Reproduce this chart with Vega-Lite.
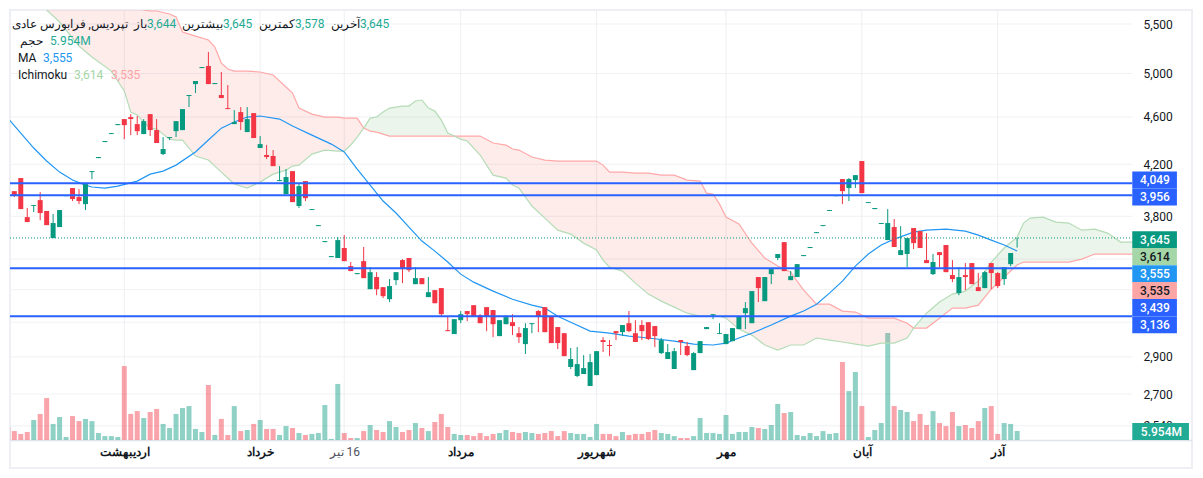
{
  "$schema": "https://vega.github.io/schema/vega-lite/v6.json",
  "width": 1182,
  "height": 458,
  "autosize": "none",
  "padding": {"left": 10, "top": 10, "right": 11, "bottom": 10},
  "background": "#ffffff",
  "config": {
    "view": {"stroke": "#EEEFF4", "strokeWidth": 2},
    "text": {"font": "Roboto", "fontSize": 12, "baseline": "middle"}
  },
  "datasets": {
    "candles": [
      {"bar":-1,"volume":8.6},
      {"bar":0,"open":3988,"high":3988,"low":3943,"close":3958,"volume":5.9},
      {"bar":1,"open":4090,"high":4090,"low":3853,"close":3853,"volume":4.0},
      {"bar":2,"open":3794,"high":3861,"low":3758,"close":3758,"volume":5.3},
      {"bar":3,"open":3876,"high":3883,"low":3831,"close":3883,"volume":13.2},
      {"bar":4,"open":3920,"high":3981,"low":3772,"close":3824,"volume":17.2},
      {"bar":5,"open":3839,"high":3839,"low":3736,"close":3736,"volume":27.7},
      {"bar":6,"open":3644,"high":3817,"low":3644,"close":3751,"volume":10.6},
      {"bar":7,"open":3722,"high":3846,"low":3722,"close":3846,"volume":15.2},
      {"bar":8,"open":3950,"high":3958,"low":3950,"close":3958,"volume":2.0},
      {"bar":9,"open":4012,"high":4012,"low":3913,"close":3928,"volume":15.8},
      {"bar":10,"open":3943,"high":4004,"low":3890,"close":3913,"volume":12.5},
      {"bar":11,"open":3890,"high":4043,"low":3846,"close":4043,"volume":13.9},
      {"bar":12,"open":4137,"high":4145,"low":4082,"close":4145,"volume":12.5},
      {"bar":13,"open":4250,"high":4259,"low":4250,"close":4259,"volume":4.6},
      {"bar":14,"open":4383,"high":4392,"low":4383,"close":4392,"volume":2.6},
      {"bar":15,"open":4451,"high":4459,"low":4451,"close":4459,"volume":2.6},
      {"bar":16,"open":4528,"high":4537,"low":4528,"close":4537,"volume":2.0},
      {"bar":17,"open":4581,"high":4581,"low":4408,"close":4528,"volume":48.8},
      {"bar":18,"open":4599,"high":4625,"low":4442,"close":4581,"volume":17.2},
      {"bar":19,"open":4537,"high":4608,"low":4442,"close":4476,"volume":19.1},
      {"bar":20,"open":4451,"high":4581,"low":4451,"close":4563,"volume":14.5},
      {"bar":21,"open":4625,"high":4625,"low":4434,"close":4485,"volume":18.5},
      {"bar":22,"open":4485,"high":4581,"low":4375,"close":4375,"volume":20.5},
      {"bar":23,"open":4283,"high":4425,"low":4275,"close":4325,"volume":10.6},
      {"bar":24,"open":4417,"high":4425,"low":4400,"close":4425,"volume":7.9},
      {"bar":25,"open":4476,"high":4563,"low":4425,"close":4563,"volume":17.2},
      {"bar":26,"open":4485,"high":4670,"low":4485,"close":4670,"volume":21.1},
      {"bar":27,"open":4789,"high":4798,"low":4688,"close":4798,"volume":22.4},
      {"bar":28,"open":4900,"high":4929,"low":4816,"close":4929,"volume":7.3},
      {"bar":29,"open":5053,"high":5063,"low":5053,"close":5063,"volume":5.3},
      {"bar":30,"open":5073,"high":5212,"low":4900,"close":4900,"volume":36.3},
      {"bar":31,"open":4900,"high":4910,"low":4900,"close":4910,"volume":3.3},
      {"bar":32,"open":4798,"high":5015,"low":4770,"close":4770,"volume":13.9},
      {"bar":33,"open":4679,"high":4891,"low":4670,"close":4670,"volume":3.3},
      {"bar":34,"open":4537,"high":4661,"low":4537,"close":4555,"volume":22.4},
      {"bar":35,"open":4643,"high":4688,"low":4485,"close":4555,"volume":5.9},
      {"bar":36,"open":4468,"high":4688,"low":4468,"close":4581,"volume":6.6},
      {"bar":37,"open":4634,"high":4634,"low":4417,"close":4417,"volume":10.6},
      {"bar":38,"open":4333,"high":4434,"low":4333,"close":4366,"volume":13.2},
      {"bar":39,"open":4275,"high":4358,"low":4242,"close":4259,"volume":7.3},
      {"bar":40,"open":4267,"high":4316,"low":4185,"close":4185,"volume":7.3},
      {"bar":41,"open":4066,"high":4185,"low":4066,"close":4074,"volume":3.3},
      {"bar":42,"open":3966,"high":4161,"low":3966,"close":4098,"volume":9.2},
      {"bar":43,"open":4145,"high":4145,"low":3905,"close":3905,"volume":7.9},
      {"bar":44,"open":3876,"high":4043,"low":3861,"close":4027,"volume":4.6},
      {"bar":45,"open":4066,"high":4066,"low":3913,"close":3935,"volume":3.3},
      {"bar":46,"open":3846,"high":3853,"low":3846,"close":3853,"volume":4.0},
      {"bar":47,"open":3729,"high":3736,"low":3729,"close":3736,"volume":4.6},
      {"bar":48,"open":3616,"high":3623,"low":3616,"close":3623,"volume":23.1},
      {"bar":49,"open":3513,"high":3520,"low":3513,"close":3520,"volume":0.7},
      {"bar":50,"open":3507,"high":3651,"low":3507,"close":3630,"volume":37.0},
      {"bar":51,"open":3575,"high":3665,"low":3486,"close":3486,"volume":4.6},
      {"bar":52,"open":3453,"high":3480,"low":3420,"close":3420,"volume":1.3},
      {"bar":53,"open":3400,"high":3407,"low":3400,"close":3407,"volume":1.3},
      {"bar":54,"open":3486,"high":3582,"low":3374,"close":3374,"volume":5.9},
      {"bar":55,"open":3303,"high":3446,"low":3303,"close":3413,"volume":9.9},
      {"bar":56,"open":3381,"high":3413,"low":3265,"close":3303,"volume":6.6},
      {"bar":57,"open":3316,"high":3316,"low":3247,"close":3259,"volume":5.3},
      {"bar":58,"open":3240,"high":3368,"low":3222,"close":3323,"volume":12.5},
      {"bar":59,"open":3361,"high":3413,"low":3329,"close":3413,"volume":8.6},
      {"bar":60,"open":3493,"high":3500,"low":3342,"close":3433,"volume":5.3},
      {"bar":61,"open":3507,"high":3507,"low":3413,"close":3426,"volume":6.6},
      {"bar":62,"open":3335,"high":3446,"low":3335,"close":3374,"volume":11.2},
      {"bar":63,"open":3374,"high":3374,"low":3335,"close":3335,"volume":7.9},
      {"bar":64,"open":3253,"high":3381,"low":3253,"close":3284,"volume":5.9},
      {"bar":65,"open":3297,"high":3297,"low":3215,"close":3215,"volume":11.9},
      {"bar":66,"open":3310,"high":3310,"low":3136,"close":3148,"volume":17.2},
      {"bar":67,"open":3053,"high":3136,"low":3047,"close":3047,"volume":8.6},
      {"bar":68,"open":3030,"high":3118,"low":3030,"close":3118,"volume":4.0},
      {"bar":69,"open":3112,"high":3167,"low":3094,"close":3148,"volume":3.3},
      {"bar":70,"open":3167,"high":3167,"low":3106,"close":3148,"volume":3.3},
      {"bar":71,"open":3203,"high":3203,"low":3136,"close":3136,"volume":2.6},
      {"bar":72,"open":3142,"high":3148,"low":3094,"close":3094,"volume":4.6},
      {"bar":73,"open":3191,"high":3191,"low":3047,"close":3136,"volume":2.6},
      {"bar":74,"open":3173,"high":3173,"low":3012,"close":3088,"volume":4.0},
      {"bar":75,"open":3018,"high":3112,"low":3018,"close":3112,"volume":4.6},
      {"bar":76,"open":3088,"high":3142,"low":3088,"close":3130,"volume":6.6},
      {"bar":77,"open":3100,"high":3148,"low":3024,"close":3077,"volume":5.3},
      {"bar":78,"open":3035,"high":3071,"low":2978,"close":3012,"volume":4.6},
      {"bar":79,"open":2972,"high":3094,"low":2916,"close":3065,"volume":5.3},
      {"bar":80,"open":3088,"high":3094,"low":3035,"close":3094,"volume":4.6},
      {"bar":81,"open":3167,"high":3173,"low":3041,"close":3136,"volume":4.0},
      {"bar":82,"open":3191,"high":3191,"low":3041,"close":3041,"volume":4.6},
      {"bar":83,"open":3136,"high":3136,"low":2978,"close":2978,"volume":5.9},
      {"bar":84,"open":3071,"high":3071,"low":2944,"close":2978,"volume":2.6},
      {"bar":85,"open":3035,"high":3035,"low":2904,"close":2904,"volume":5.9},
      {"bar":86,"open":2844,"high":2950,"low":2833,"close":2888,"volume":4.6},
      {"bar":87,"open":2795,"high":2955,"low":2790,"close":2860,"volume":4.0},
      {"bar":88,"open":2806,"high":2910,"low":2806,"close":2838,"volume":4.0},
      {"bar":89,"open":2742,"high":2916,"low":2742,"close":2871,"volume":2.0},
      {"bar":90,"open":2800,"high":2932,"low":2800,"close":2932,"volume":10.6},
      {"bar":91,"open":2995,"high":3012,"low":2927,"close":2984,"volume":4.0},
      {"bar":92,"open":2967,"high":2995,"low":2904,"close":2961,"volume":4.0},
      {"bar":93,"open":3047,"high":3047,"low":2995,"close":3035,"volume":2.6},
      {"bar":94,"open":3041,"high":3083,"low":3018,"close":3083,"volume":5.3},
      {"bar":95,"open":3094,"high":3167,"low":3041,"close":3047,"volume":3.3},
      {"bar":96,"open":3035,"high":3112,"low":2984,"close":2984,"volume":4.0},
      {"bar":97,"open":3083,"high":3112,"low":2995,"close":3047,"volume":4.0},
      {"bar":98,"open":3100,"high":3100,"low":2995,"close":3001,"volume":5.3},
      {"bar":99,"open":3077,"high":3077,"low":2955,"close":3018,"volume":6.6},
      {"bar":100,"open":2921,"high":3007,"low":2916,"close":2995,"volume":4.6},
      {"bar":101,"open":2888,"high":2972,"low":2888,"close":2927,"volume":4.0},
      {"bar":102,"open":2833,"high":2950,"low":2833,"close":2932,"volume":2.6},
      {"bar":103,"open":2995,"high":2995,"low":2910,"close":2984,"volume":1.3},
      {"bar":104,"open":2961,"high":2984,"low":2904,"close":2910,"volume":1.3},
      {"bar":105,"open":2827,"high":2927,"low":2827,"close":2921,"volume":2.6},
      {"bar":106,"open":2921,"high":2989,"low":2921,"close":2989,"volume":14.5},
      {"bar":107,"open":3059,"high":3071,"low":3059,"close":3071,"volume":4.6},
      {"bar":108,"open":3142,"high":3148,"low":3118,"close":3148,"volume":4.6},
      {"bar":109,"open":3030,"high":3094,"low":3030,"close":3035,"volume":4.0},
      {"bar":110,"open":2972,"high":3030,"low":2972,"close":3030,"volume":16.5},
      {"bar":111,"open":2989,"high":3065,"low":2989,"close":3065,"volume":4.0},
      {"bar":112,"open":3059,"high":3136,"low":3059,"close":3136,"volume":5.3},
      {"bar":113,"open":3154,"high":3222,"low":3059,"close":3185,"volume":5.3},
      {"bar":114,"open":3094,"high":3291,"low":3094,"close":3291,"volume":8.6},
      {"bar":115,"open":3381,"high":3381,"low":3222,"close":3310,"volume":7.9},
      {"bar":116,"open":3228,"high":3381,"low":3228,"close":3381,"volume":7.3},
      {"bar":117,"open":3400,"high":3440,"low":3335,"close":3433,"volume":9.9},
      {"bar":118,"open":3507,"high":3534,"low":3493,"close":3534,"volume":23.8},
      {"bar":119,"open":3616,"high":3616,"low":3420,"close":3420,"volume":17.8},
      {"bar":120,"open":3361,"high":3420,"low":3361,"close":3387,"volume":18.5},
      {"bar":121,"open":3381,"high":3466,"low":3381,"close":3466,"volume":3.3},
      {"bar":122,"open":3520,"high":3527,"low":3520,"close":3527,"volume":2.6},
      {"bar":123,"open":3575,"high":3582,"low":3575,"close":3582,"volume":4.6},
      {"bar":124,"open":3679,"high":3686,"low":3679,"close":3686,"volume":2.6},
      {"bar":125,"open":3729,"high":3736,"low":3729,"close":3736,"volume":5.9},
      {"bar":126,"open":3839,"high":3846,"low":3839,"close":3846,"volume":4.0},
      {"bar":127,"open":3950,"high":3958,"low":3950,"close":3958,"volume":4.6},
      {"bar":128,"open":4082,"high":4082,"low":3890,"close":3988,"volume":51.5},
      {"bar":129,"open":4012,"high":4090,"low":3913,"close":4082,"volume":32.3},
      {"bar":130,"open":4074,"high":4113,"low":4012,"close":4113,"volume":44.9},
      {"bar":131,"open":4226,"high":4226,"low":3973,"close":3973,"volume":22.4},
      {"bar":132,"open":3898,"high":3905,"low":3898,"close":3905,"volume":2.0},
      {"bar":133,"open":3853,"high":3861,"low":3853,"close":3861,"volume":6.6},
      {"bar":134,"open":3744,"high":3751,"low":3744,"close":3751,"volume":11.2},
      {"bar":135,"open":3630,"high":3853,"low":3630,"close":3751,"volume":70.6},
      {"bar":136,"open":3722,"high":3780,"low":3582,"close":3582,"volume":22.4},
      {"bar":137,"open":3527,"high":3729,"low":3527,"close":3561,"volume":19.8},
      {"bar":138,"open":3534,"high":3644,"low":3446,"close":3644,"volume":18.5},
      {"bar":139,"open":3715,"high":3715,"low":3568,"close":3609,"volume":12.5},
      {"bar":140,"open":3693,"high":3693,"low":3575,"close":3575,"volume":17.2},
      {"bar":141,"open":3493,"high":3679,"low":3473,"close":3473,"volume":9.9},
      {"bar":142,"open":3400,"high":3534,"low":3394,"close":3480,"volume":19.1},
      {"bar":143,"open":3547,"high":3547,"low":3446,"close":3527,"volume":11.2},
      {"bar":144,"open":3596,"high":3596,"low":3413,"close":3413,"volume":9.2},
      {"bar":145,"open":3394,"high":3493,"low":3348,"close":3368,"volume":18.5},
      {"bar":146,"open":3278,"high":3446,"low":3265,"close":3381,"volume":9.2},
      {"bar":147,"open":3394,"high":3473,"low":3297,"close":3381,"volume":9.9},
      {"bar":148,"open":3473,"high":3473,"low":3335,"close":3335,"volume":7.9},
      {"bar":149,"open":3316,"high":3407,"low":3291,"close":3291,"volume":12.5},
      {"bar":150,"open":3310,"high":3420,"low":3310,"close":3413,"volume":21.1},
      {"bar":151,"open":3473,"high":3473,"low":3303,"close":3407,"volume":22.4},
      {"bar":152,"open":3407,"high":3413,"low":3310,"close":3323,"volume":4.0},
      {"bar":153,"open":3368,"high":3446,"low":3329,"close":3446,"volume":11.2},
      {"bar":154,"open":3466,"high":3541,"low":3453,"close":3541,"volume":10.6},
      {"bar":155,"open":3644,"high":3645,"low":3578,"close":3645,"volume":5.954}
    ],
    "cloud": [
      {"bar":5,"spanA":5650,"spanB":6000,"seg":1},{"bar":7,"spanA":5521,"spanB":6000,"seg":1},
      {"bar":10,"spanA":5272,"spanB":6000,"seg":1},{"bar":12,"spanA":5162,"spanB":6000,"seg":1},
      {"bar":15,"spanA":5024,"spanB":6000,"seg":1},{"bar":17,"spanA":4835,"spanB":5900,"seg":1},
      {"bar":18,"spanA":4643,"spanB":5800,"seg":1},{"bar":19,"spanA":4617,"spanB":5700,"seg":1},
      {"bar":20,"spanA":4555,"spanB":5650,"seg":1},{"bar":21,"spanA":4502,"spanB":5639,"seg":1},
      {"bar":22,"spanA":4494,"spanB":5639,"seg":1},{"bar":24,"spanA":4408,"spanB":5607,"seg":1},
      {"bar":25,"spanA":4400,"spanB":5574,"seg":1},{"bar":26,"spanA":4400,"spanB":5416,"seg":1},
      {"bar":28,"spanA":4267,"spanB":5374,"seg":1},{"bar":30,"spanA":4234,"spanB":5333,"seg":1},
      {"bar":31,"spanA":4185,"spanB":5262,"seg":1},{"bar":32,"spanA":4137,"spanB":5102,"seg":1},
      {"bar":33,"spanA":4090,"spanB":5044,"seg":1},{"bar":34,"spanA":4043,"spanB":5024,"seg":1},
      {"bar":36,"spanA":4012,"spanB":5024,"seg":1},{"bar":38,"spanA":4058,"spanB":5015,"seg":1},
      {"bar":40,"spanA":4121,"spanB":4986,"seg":1},{"bar":42,"spanA":4153,"spanB":4872,"seg":1},
      {"bar":43,"spanA":4185,"spanB":4816,"seg":1},{"bar":44,"spanA":4193,"spanB":4679,"seg":1},
      {"bar":46,"spanA":4283,"spanB":4625,"seg":1},{"bar":48,"spanA":4316,"spanB":4599,"seg":1},
      {"bar":50,"spanA":4308,"spanB":4599,"seg":1},{"bar":51,"spanA":4308,"spanB":4590,"seg":1},
      {"bar":52,"spanA":4358,"spanB":4590,"seg":1},{"bar":53,"spanA":4425,"spanB":4590,"seg":1},
      {"bar":54,"spanA":4502,"spanB":4502,"seg":1},
      {"bar":54,"spanA":4502,"spanB":4502,"seg":2},{"bar":55,"spanA":4590,"spanB":4476,"seg":2},
      {"bar":56,"spanA":4599,"spanB":4468,"seg":2},{"bar":57,"spanA":4643,"spanB":4451,"seg":2},
      {"bar":58,"spanA":4679,"spanB":4434,"seg":2},{"bar":60,"spanA":4697,"spanB":4434,"seg":2},
      {"bar":61,"spanA":4697,"spanB":4434,"seg":2},{"bar":62,"spanA":4743,"spanB":4434,"seg":2},
      {"bar":63,"spanA":4752,"spanB":4434,"seg":2},{"bar":64,"spanA":4679,"spanB":4434,"seg":2},
      {"bar":65,"spanA":4652,"spanB":4434,"seg":2},{"bar":66,"spanA":4572,"spanB":4434,"seg":2},
      {"bar":67,"spanA":4459,"spanB":4434,"seg":2},{"bar":68,"spanA":4434,"spanB":4434,"seg":2},
      {"bar":68,"spanA":4434,"spanB":4434,"seg":3},{"bar":69,"spanA":4408,"spanB":4434,"seg":3},
      {"bar":70,"spanA":4392,"spanB":4434,"seg":3},{"bar":72,"spanA":4275,"spanB":4434,"seg":3},
      {"bar":74,"spanA":4113,"spanB":4375,"seg":3},{"bar":76,"spanA":4090,"spanB":4358,"seg":3},
      {"bar":77,"spanA":4035,"spanB":4325,"seg":3},{"bar":78,"spanA":4012,"spanB":4316,"seg":3},
      {"bar":80,"spanA":3876,"spanB":4259,"seg":3},{"bar":82,"spanA":3787,"spanB":4234,"seg":3},
      {"bar":84,"spanA":3700,"spanB":4226,"seg":3},{"bar":86,"spanA":3672,"spanB":4226,"seg":3},
      {"bar":88,"spanA":3609,"spanB":4226,"seg":3},{"bar":90,"spanA":3561,"spanB":4226,"seg":3},
      {"bar":91,"spanA":3493,"spanB":4193,"seg":3},{"bar":92,"spanA":3446,"spanB":4137,"seg":3},
      {"bar":94,"spanA":3420,"spanB":4137,"seg":3},{"bar":96,"spanA":3342,"spanB":4129,"seg":3},
      {"bar":98,"spanA":3272,"spanB":4129,"seg":3},{"bar":100,"spanA":3228,"spanB":4113,"seg":3},
      {"bar":102,"spanA":3191,"spanB":4113,"seg":3},{"bar":104,"spanA":3154,"spanB":4074,"seg":3},
      {"bar":106,"spanA":3136,"spanB":4066,"seg":3},{"bar":107,"spanA":3136,"spanB":3973,"seg":3},
      {"bar":108,"spanA":3136,"spanB":3966,"seg":3},{"bar":109,"spanA":3136,"spanB":3890,"seg":3},
      {"bar":110,"spanA":3124,"spanB":3794,"seg":3},{"bar":112,"spanA":3059,"spanB":3744,"seg":3},
      {"bar":114,"spanA":3024,"spanB":3609,"seg":3},{"bar":116,"spanA":2967,"spanB":3507,"seg":3},
      {"bar":118,"spanA":2938,"spanB":3453,"seg":3},{"bar":120,"spanA":2967,"spanB":3413,"seg":3},
      {"bar":122,"spanA":2967,"spanB":3297,"seg":3},{"bar":124,"spanA":3007,"spanB":3209,"seg":3},
      {"bar":126,"spanA":2995,"spanB":3209,"seg":3},{"bar":128,"spanA":2984,"spanB":3167,"seg":3},
      {"bar":130,"spanA":2972,"spanB":3161,"seg":3},{"bar":132,"spanA":2961,"spanB":3124,"seg":3},
      {"bar":134,"spanA":2978,"spanB":3124,"seg":3},{"bar":136,"spanA":2978,"spanB":3124,"seg":3},
      {"bar":138,"spanA":3007,"spanB":3094,"seg":3},{"bar":139,"spanA":3065,"spanB":3065,"seg":3},
      {"bar":139,"spanA":3065,"spanB":3065,"seg":4},{"bar":141,"spanA":3154,"spanB":3065,"seg":4},
      {"bar":143,"spanA":3222,"spanB":3124,"seg":4},{"bar":145,"spanA":3272,"spanB":3185,"seg":4},
      {"bar":147,"spanA":3291,"spanB":3185,"seg":4},{"bar":149,"spanA":3355,"spanB":3203,"seg":4},
      {"bar":151,"spanA":3480,"spanB":3303,"seg":4},{"bar":153,"spanA":3575,"spanB":3381,"seg":4},
      {"bar":155,"spanA":3651,"spanB":3460,"seg":4},{"bar":156,"spanA":3751,"spanB":3480,"seg":4},
      {"bar":157,"spanA":3787,"spanB":3480,"seg":4},{"bar":159,"spanA":3794,"spanB":3480,"seg":4},
      {"bar":161,"spanA":3758,"spanB":3480,"seg":4},{"bar":163,"spanA":3751,"spanB":3480,"seg":4},
      {"bar":165,"spanA":3700,"spanB":3500,"seg":4},{"bar":167,"spanA":3707,"spanB":3534,"seg":4},
      {"bar":169,"spanA":3679,"spanB":3534,"seg":4},{"bar":171,"spanA":3616,"spanB":3534,"seg":4},
      {"bar":173,"spanA":3616,"spanB":3534,"seg":4}
    ],
    "ma": [
      {"bar":-1,"ma":4590},{"bar":1,"ma":4459},{"bar":3,"ma":4333},{"bar":5,"ma":4226},{"bar":7,"ma":4137},
      {"bar":9,"ma":4074},{"bar":11,"ma":4035},{"bar":12,"ma":4020},{"bar":14,"ma":4012},{"bar":16,"ma":4027},
      {"bar":19,"ma":4066},{"bar":21,"ma":4121},{"bar":23,"ma":4145},{"bar":25,"ma":4193},{"bar":28,"ma":4300},
      {"bar":30,"ma":4400},{"bar":32,"ma":4502},{"bar":34,"ma":4555},{"bar":36,"ma":4599},{"bar":38,"ma":4608},
      {"bar":41,"ma":4581},{"bar":43,"ma":4520},{"bar":46,"ma":4442},{"bar":49,"ma":4366},{"bar":51,"ma":4300},
      {"bar":53,"ma":4161},{"bar":55,"ma":4035},{"bar":57,"ma":3913},{"bar":59,"ma":3824},{"bar":61,"ma":3722},
      {"bar":63,"ma":3623},{"bar":65,"ma":3554},{"bar":67,"ma":3480},{"bar":69,"ma":3400},{"bar":71,"ma":3348},
      {"bar":74,"ma":3291},{"bar":77,"ma":3240},{"bar":80,"ma":3203},{"bar":82,"ma":3185},{"bar":84,"ma":3136},
      {"bar":86,"ma":3100},{"bar":89,"ma":3047},{"bar":92,"ma":3035},{"bar":95,"ma":3018},{"bar":98,"ma":3007},
      {"bar":102,"ma":2989},{"bar":105,"ma":2972},{"bar":108,"ma":2967},{"bar":110,"ma":2978},{"bar":112,"ma":3007},
      {"bar":114,"ma":3035},{"bar":117,"ma":3083},{"bar":120,"ma":3136},{"bar":122,"ma":3167},{"bar":124,"ma":3209},
      {"bar":126,"ma":3278},{"bar":128,"ma":3355},{"bar":130,"ma":3453},{"bar":132,"ma":3534},{"bar":134,"ma":3596},
      {"bar":136,"ma":3637},{"bar":139,"ma":3686},{"bar":141,"ma":3700},{"bar":144,"ma":3707},{"bar":147,"ma":3693},
      {"bar":149,"ma":3665},{"bar":151,"ma":3630},{"bar":153,"ma":3596},{"bar":155,"ma":3555}
    ],
    "tags": [
      {"label":"4,049","kind":"line","level":4074},
      {"label":"3,956","kind":"line","level":3943},
      {"label":"3,645","kind":"last","level":3633},
      {"label":"3,614","kind":"spanA","level":3517},
      {"label":"3,555","kind":"ma","level":3403},
      {"label":"3,535","kind":"spanB","level":3294},
      {"label":"3,439","kind":"line","level":3188},
      {"label":"3,136","kind":"line","level":3085}
    ]
  },
  "layer": [
    {
      "layer": [
        {
          "data": {"values": [{"level":5500},{"level":5000},{"level":4600},{"level":4200},{"level":3800},{"level":3500},{"level":3300},{"level":3100},{"level":2900},{"level":2700},{"level":2540}]},
          "mark": {"type": "rule", "color": "#F0F1F4", "strokeWidth": 1},
          "encoding": {
            "x": {"datum": -0.665, "type": "quantitative", "scale": {"domain": [-0.665, 182.03], "nice": false, "zero": false, "padding": 0}},
            "x2": {"datum": 172.8},
            "y": {
              "field": "level",
              "type": "quantitative",
              "scale": {"type": "log", "domain": [2342, 5650.1], "nice": false, "zero": false},
              "axis": {
                "orient": "right", "offset": -57, "title": null, "grid": false, "domain": false, "ticks": false,
                "values": [5500, 5000, 4600, 4200, 3800, 2900, 2700, 2540], "format": ",",
                "labelPadding": 8, "labelFont": "Roboto", "labelFontSize": 12, "labelColor": "#131722", "labelOverlap": false, "labelBound": false
              }
            }
          }
        },
        {
          "data": {"values": [{"bar":17},{"bar":38},{"bar":51},{"bar":69},{"bar":90},{"bar":110},{"bar":131},{"bar":152}]},
          "mark": {"type": "rule", "color": "#EEEFF2", "strokeWidth": 1},
          "encoding": {
            "x": {
              "field": "bar",
              "type": "quantitative",
              "axis": {
                "orient": "bottom", "offset": -28, "title": null, "grid": false, "ticks": false,
                "domainColor": "#E0E3EB", "domainWidth": 1.5,
                "values": [17, 38, 51, 69, 90, 110, 131, 152],
                "labelExpr": "{'17':'اردیبهشت','38':'خرداد','51':'تیر \u200e16','69':'مرداد','90':'شهریور','110':'مهر','131':'آبان','152':'آذر'}[datum.value]",
                "labelPadding": 6, "labelFont": "Roboto", "labelFontSize": 12, "labelColor": {"expr": "datum.value == 51 ? '#50535E' : '#131722'"},
                "labelFontWeight": {"expr": "datum.value == 51 ? 400 : 700"}, "labelOverlap": false, "labelBound": false
              }
            },
            "y": {"datum": 5650},
            "y2": {"datum": 2471}
          }
        }
      ]
    },
    {
      "data": {"name": "candles"},
      "mark": {"type": "bar", "orient": "vertical", "size": 5, "opacity": 0.45, "clip": true},
      "encoding": {
        "x": {"field": "bar", "type": "quantitative"},
        "y": {"field": "volume", "type": "quantitative", "axis": null, "scale": {"domain": [-18.48, 283.8], "nice": false, "zero": false}},
        "y2": {"datum": 0},
        "color": {"condition": {"test": "datum.close >= datum.open", "value": "#089981"}, "value": "#F23645"}
      }
    },
    {
      "layer": [
        {
          "data": {"name": "cloud"},
          "transform": [{"filter": "datum.seg == 1 || datum.seg == 3"}],
          "mark": {"type": "area", "orient": "vertical", "fill": "#F44336", "fillOpacity": 0.1, "clip": true},
          "encoding": {
            "x": {"field": "bar", "type": "quantitative"},
            "y": {"field": "spanA", "type": "quantitative", "axis": null, "stack": null, "scale": {"type": "log", "domain": [2342, 5650.1], "nice": false, "zero": false}},
            "y2": {"field": "spanB"},
            "detail": {"field": "seg"}
          }
        },
        {
          "data": {"name": "cloud"},
          "transform": [{"filter": "datum.seg == 2 || datum.seg == 4"}],
          "mark": {"type": "area", "orient": "vertical", "fill": "#43A047", "fillOpacity": 0.1, "clip": true},
          "encoding": {
            "x": {"field": "bar", "type": "quantitative"},
            "y": {"field": "spanA", "type": "quantitative", "axis": null, "stack": null},
            "y2": {"field": "spanB"},
            "detail": {"field": "seg"}
          }
        },
        {
          "data": {"name": "cloud"},
          "mark": {"type": "line", "color": "#FFA8A8", "strokeWidth": 1.2, "clip": true},
          "encoding": {
            "x": {"field": "bar", "type": "quantitative"},
            "y": {"field": "spanB", "type": "quantitative", "axis": null},
            "order": {"field": "bar"}
          }
        },
        {
          "data": {"name": "cloud"},
          "mark": {"type": "line", "color": "#B5DCB6", "strokeWidth": 1.2, "clip": true},
          "encoding": {
            "x": {"field": "bar", "type": "quantitative"},
            "y": {"field": "spanA", "type": "quantitative", "axis": null},
            "order": {"field": "bar"}
          }
        },
        {
          "data": {"name": "ma"},
          "mark": {"type": "line", "color": "#2196F3", "strokeWidth": 1.2, "clip": true},
          "encoding": {
            "x": {"field": "bar", "type": "quantitative"},
            "y": {"field": "ma", "type": "quantitative", "axis": null},
            "order": {"field": "bar"}
          }
        },
        {
          "data": {"name": "candles"},
          "transform": [{"filter": "isValid(datum.open)"}],
          "mark": {"type": "rule", "strokeWidth": 1},
          "encoding": {
            "x": {"field": "bar", "type": "quantitative"},
            "y": {"field": "high", "type": "quantitative", "axis": null},
            "y2": {"field": "low"},
            "color": {"condition": {"test": "datum.close >= datum.open", "value": "#089981"}, "value": "#F23645"}
          }
        },
        {
          "data": {"name": "candles"},
          "transform": [{"filter": "isValid(datum.open)"}],
          "mark": {"type": "bar", "orient": "vertical", "size": 5},
          "encoding": {
            "x": {"field": "bar", "type": "quantitative"},
            "y": {"field": "open", "type": "quantitative", "axis": null},
            "y2": {"field": "close"},
            "color": {"condition": {"test": "datum.close >= datum.open", "value": "#089981"}, "value": "#F23645"}
          }
        },
        {
          "data": {"values": [{"level": 3645}]},
          "mark": {"type": "rule", "color": "#089981", "strokeWidth": 1, "strokeDash": [1, 2]},
          "encoding": {
            "x": {"datum": -0.665, "type": "quantitative"},
            "x2": {"datum": 172.8},
            "y": {"field": "level", "type": "quantitative", "axis": null}
          }
        },
        {
          "data": {"values": [{"level":4049},{"level":3956},{"level":3439},{"level":3136}]},
          "mark": {"type": "rule", "color": "#2962FF", "strokeWidth": 2},
          "encoding": {
            "x": {"datum": -0.665, "type": "quantitative"},
            "x2": {"datum": 172.8},
            "y": {"field": "level", "type": "quantitative", "axis": null}
          }
        },
        {
          "data": {"name": "tags"},
          "mark": {"type": "rule", "strokeWidth": 17},
          "encoding": {
            "x": {"datum": 172.8, "type": "quantitative"},
            "x2": {"datum": 179.7},
            "y": {"field": "level", "type": "quantitative", "axis": null},
            "stroke": {"field": "kind", "type": "nominal", "legend": null, "scale": {"domain": ["line", "last", "spanA", "ma", "spanB"], "range": ["#2962FF", "#089981", "#A5D6A7", "#2196F3", "#FCA5A5"]}}
          }
        },
        {
          "data": {"name": "tags"},
          "mark": {"type": "text", "align": "center", "fontWeight": 500},
          "encoding": {
            "x": {"datum": 176.3, "type": "quantitative"},
            "y": {"field": "level", "type": "quantitative", "axis": null},
            "text": {"field": "label"},
            "color": {"field": "kind", "type": "nominal", "legend": null, "scale": {"domain": ["line", "last", "spanA", "ma", "spanB"], "range": ["#ffffff", "#ffffff", "#131722", "#ffffff", "#131722"]}}
          }
        },
        {
          "data": {"values": [{"level": 2512}]},
          "mark": {"type": "rule", "strokeWidth": 17, "color": "#22AB94"},
          "encoding": {
            "x": {"datum": 172.8, "type": "quantitative"},
            "x2": {"datum": 181.56},
            "y": {"field": "level", "type": "quantitative", "axis": null}
          }
        },
        {
          "data": {"values": [{"level": 2512}]},
          "mark": {"type": "text", "align": "center", "fontWeight": 500, "text": "5.954M", "color": "#ffffff"},
          "encoding": {"x": {"datum": 177.3, "type": "quantitative"}, "y": {"field": "level", "type": "quantitative", "axis": null}}
        },
        {"data": {"values": [{"level": 5500}]}, "mark": {"type": "text", "align": "right", "color": "#131722", "text": "تپردیس, فرابورس عادی"}, "encoding": {"x": {"datum": 17.57, "type": "quantitative"}, "y": {"field": "level", "type": "quantitative", "axis": null}}},
        {"data": {"values": [{"level": 5500}]}, "mark": {"type": "text", "align": "right", "color": "#131722", "text": "باز"}, "encoding": {"x": {"datum": 20.5, "type": "quantitative"}, "y": {"field": "level", "type": "quantitative", "axis": null}}},
        {"data": {"values": [{"level": 5500}]}, "mark": {"type": "text", "align": "left", "color": "#22AB94", "text": "3,644"}, "encoding": {"x": {"datum": 20.5, "type": "quantitative"}, "y": {"field": "level", "type": "quantitative", "axis": null}}},
        {"data": {"values": [{"level": 5500}]}, "mark": {"type": "text", "align": "right", "color": "#131722", "text": "بیشترین"}, "encoding": {"x": {"datum": 32.26, "type": "quantitative"}, "y": {"field": "level", "type": "quantitative", "axis": null}}},
        {"data": {"values": [{"level": 5500}]}, "mark": {"type": "text", "align": "left", "color": "#22AB94", "text": "3,645"}, "encoding": {"x": {"datum": 32.26, "type": "quantitative"}, "y": {"field": "level", "type": "quantitative", "axis": null}}},
        {"data": {"values": [{"level": 5500}]}, "mark": {"type": "text", "align": "right", "color": "#131722", "text": "کمترین"}, "encoding": {"x": {"datum": 43.4, "type": "quantitative"}, "y": {"field": "level", "type": "quantitative", "axis": null}}},
        {"data": {"values": [{"level": 5500}]}, "mark": {"type": "text", "align": "left", "color": "#22AB94", "text": "3,578"}, "encoding": {"x": {"datum": 43.4, "type": "quantitative"}, "y": {"field": "level", "type": "quantitative", "axis": null}}},
        {"data": {"values": [{"level": 5500}]}, "mark": {"type": "text", "align": "right", "color": "#131722", "text": "آخرین"}, "encoding": {"x": {"datum": 53.43, "type": "quantitative"}, "y": {"field": "level", "type": "quantitative", "axis": null}}},
        {"data": {"values": [{"level": 5500}]}, "mark": {"type": "text", "align": "left", "color": "#22AB94", "text": "3,645"}, "encoding": {"x": {"datum": 53.43, "type": "quantitative"}, "y": {"field": "level", "type": "quantitative", "axis": null}}},
        {"data": {"values": [{"level": 5323}]}, "mark": {"type": "text", "align": "right", "color": "#131722", "text": "حجم"}, "encoding": {"x": {"datum": 4.44, "type": "quantitative"}, "y": {"field": "level", "type": "quantitative", "axis": null}}},
        {"data": {"values": [{"level": 5323}]}, "mark": {"type": "text", "align": "left", "color": "#22AB94", "text": "5.954M"}, "encoding": {"x": {"datum": 5.52, "type": "quantitative"}, "y": {"field": "level", "type": "quantitative", "axis": null}}},
        {"data": {"values": [{"level": 5152}]}, "mark": {"type": "text", "align": "left", "color": "#131722", "text": "MA"}, "encoding": {"x": {"datum": 0.57, "type": "quantitative"}, "y": {"field": "level", "type": "quantitative", "axis": null}}},
        {"data": {"values": [{"level": 5152}]}, "mark": {"type": "text", "align": "left", "color": "#2196F3", "text": "3,555"}, "encoding": {"x": {"datum": 4.44, "type": "quantitative"}, "y": {"field": "level", "type": "quantitative", "axis": null}}},
        {"data": {"values": [{"level": 4986}]}, "mark": {"type": "text", "align": "left", "color": "#131722", "text": "Ichimoku"}, "encoding": {"x": {"datum": 0.57, "type": "quantitative"}, "y": {"field": "level", "type": "quantitative", "axis": null}}},
        {"data": {"values": [{"level": 4986}]}, "mark": {"type": "text", "align": "left", "color": "#A5D6A7", "text": "3,614"}, "encoding": {"x": {"datum": 9.23, "type": "quantitative"}, "y": {"field": "level", "type": "quantitative", "axis": null}}},
        {"data": {"values": [{"level": 4986}]}, "mark": {"type": "text", "align": "left", "color": "#FCA5A5", "text": "3,535"}, "encoding": {"x": {"datum": 14.95, "type": "quantitative"}, "y": {"field": "level", "type": "quantitative", "axis": null}}}
      ]
    }
  ],
  "resolve": {"scale": {"y": "independent"}}
}
